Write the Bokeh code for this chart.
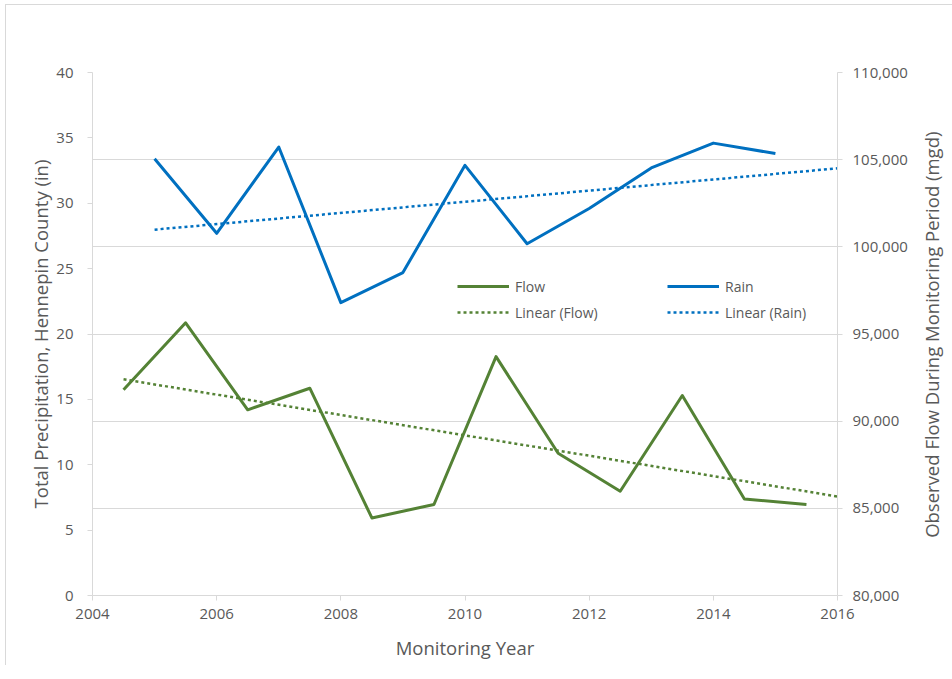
import math
from bokeh.plotting import figure
from bokeh.models import (Range1d, LinearAxis, FixedTicker, NumeralTickFormatter,
                          Legend, LegendItem, Grid)
from bokeh.embed import file_html
from bokeh.resources import INLINE

# ---------------- data ----------------
rain_years = [2005, 2006, 2007, 2008, 2009, 2010, 2011, 2012, 2013, 2014, 2015]
rain_in = [33.4, 27.7, 34.3, 22.4, 24.7, 32.9, 26.9, 29.6, 32.7, 34.6, 33.8]

flow_years = [2004.5, 2005.5, 2006.5, 2007.5, 2008.5, 2009.5,
              2010.5, 2011.5, 2012.5, 2013.5, 2014.5, 2015.5]
flow_mgd = [91800, 95640, 90650, 91890, 84450, 85220,
            93700, 88160, 85980, 91470, 85540, 85220]

# linear trend lines (as drawn, endpoints)
rain_trend_years = [2005, 2016]
rain_trend_in = [27.98, 32.67]
flow_trend_years = [2004.5, 2016]
flow_trend_mgd = [92400, 85680]

x_ticks = [2004, 2006, 2008, 2010, 2012, 2014, 2016]
left_ticks = [0, 5, 10, 15, 20, 25, 30, 35, 40]
right_ticks = [80000, 85000, 90000, 95000, 100000, 105000, 110000]

# ---------------- style ----------------
GREEN = "#548235"
BLUE = "#0070C0"
TEXT = "#595959"
GRID = "#D9D9D9"
FONT = "Open Sans"

p = figure(frame_width=745, frame_height=523,
           x_range=Range1d(2004, 2016), y_range=Range1d(0, 40),
           output_backend="svg", toolbar_location=None,
           min_border_left=86, min_border_right=106,
           min_border_top=67, min_border_bottom=70,
           background_fill_color="white", border_fill_color="white")
p.styles = {"margin-left": "5px", "margin-top": "4px",
            "border-top": "1px solid #D9D9D9", "border-left": "1px solid #D9D9D9"}
p.outline_line_color = None
p.xgrid.visible = False
p.ygrid.visible = False

p.extra_y_ranges = {"flow": Range1d(80000, 110000)}

def style_axis(ax):
    ax.axis_line_color = GRID
    ax.major_tick_line_color = GRID
    ax.minor_tick_line_color = None
    ax.major_tick_in = 0
    ax.major_tick_out = 5
    ax.major_label_text_color = TEXT
    ax.major_label_text_font = FONT
    ax.major_label_text_font_size = "15px"
    ax.axis_label_text_color = TEXT
    ax.axis_label_text_font = FONT
    ax.axis_label_text_font_size = "18.5px"
    ax.axis_label_text_font_style = "normal"

# x axis
xa = p.xaxis[0]
xa.ticker = FixedTicker(ticks=x_ticks)
xa.axis_label = "Monitoring Year"
style_axis(xa)
xa.major_label_standoff = 8
xa.axis_label_standoff = 13

# left axis
ya = p.yaxis[0]
ya.ticker = FixedTicker(ticks=left_ticks)
ya.axis_label = "Total Precipitation, Hennepin County (in)"
style_axis(ya)
ya.major_label_standoff = 14
ya.axis_label_standoff = 0

# right axis, title reading bottom-to-top (anchored at the bottom end,
# lifted by leading non-breaking spaces so that it sits centred)
ra = LinearAxis(y_range_name="flow", ticker=FixedTicker(ticks=right_ticks),
                formatter=NumeralTickFormatter(format="0,0"),
                axis_label="\u00a0" * 12 + "Observed Flow During Monitoring Period (mgd)")
style_axis(ra)
ra.major_label_standoff = 10
ra.axis_label_standoff = 21
ra.axis_label_orientation = math.pi / 2
ra.axis_label_align = "start"
ra.axis_label_text_baseline = "top"
p.add_layout(ra, "right")

# horizontal gridlines follow the secondary axis
grid = Grid(dimension=1, ticker=ra.ticker, y_range_name="flow",
            grid_line_color=GRID, grid_line_width=1)
p.add_layout(grid)

# ---------------- series ----------------
r_flow_tr = p.line(flow_trend_years, flow_trend_mgd, y_range_name="flow",
                   line_color=GREEN, line_width=2.5, line_dash="3 3")
r_rain_tr = p.line(rain_trend_years, rain_trend_in,
                   line_color=BLUE, line_width=2.5, line_dash="3 3")
r_flow = p.line(flow_years, flow_mgd, y_range_name="flow",
                line_color=GREEN, line_width=3, line_join="round")
r_rain = p.line(rain_years, rain_in,
                line_color=BLUE, line_width=3, line_join="round")

def make_legend(items, loc):
    lg = Legend(items=items, location=loc, orientation="vertical",
                background_fill_alpha=0, border_line_color=None,
                padding=0, margin=0, spacing=6,
                glyph_width=52, glyph_height=20, label_height=20,
                label_standoff=6,
                label_text_font=FONT, label_text_font_size="14px",
                label_text_color=TEXT)
    return lg

lg1 = make_legend([LegendItem(label="Flow", renderers=[r_flow]),
                   LegendItem(label="Linear (Flow)", renderers=[r_flow_tr])],
                  (365, 273))
lg2 = make_legend([LegendItem(label="Rain", renderers=[r_rain]),
                   LegendItem(label="Linear (Rain)", renderers=[r_rain_tr])],
                  (575, 273))
p.add_layout(lg1)
p.add_layout(lg2)

open("out.html", "w").write(file_html(p, INLINE))
